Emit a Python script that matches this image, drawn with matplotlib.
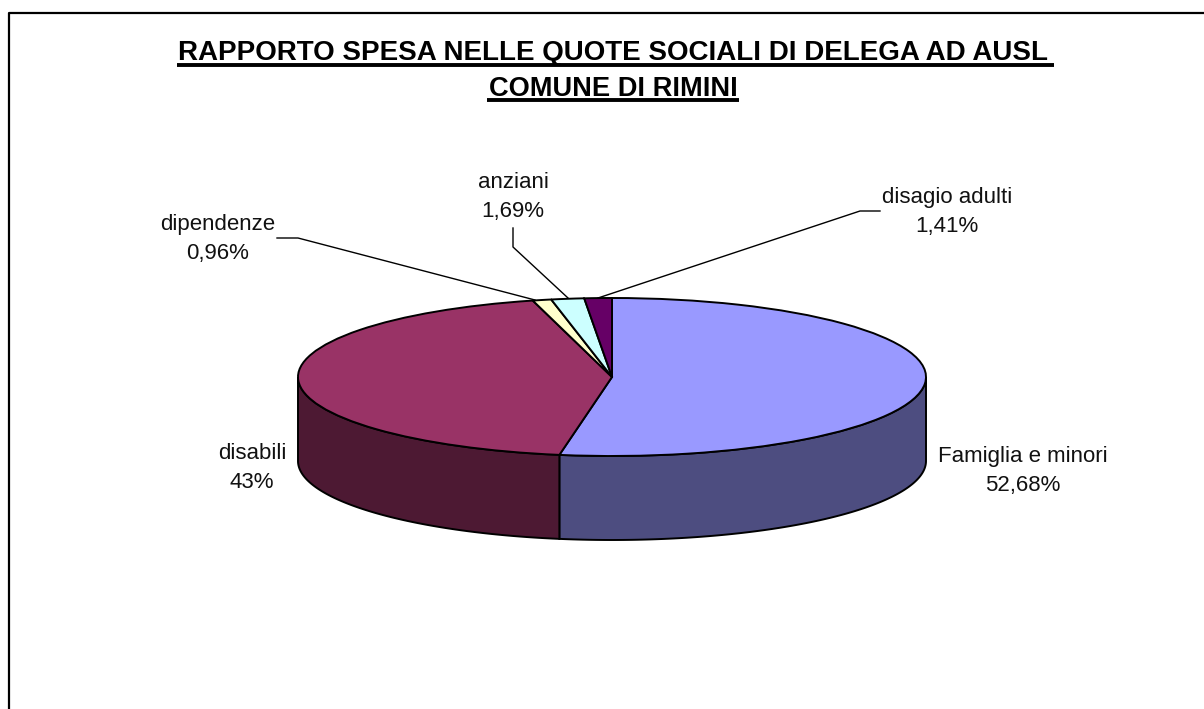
import matplotlib
matplotlib.use("Agg")
import matplotlib.pyplot as plt
import numpy as np

W, H = 1204, 709
# ellipse geometry in pixels
CX, CY, RX, RY, DEPTH = 612, 377, 314, 79, 84

names = ["Famiglia e minori", "disabili", "dipendenze", "anziani", "disagio adulti"]
values = [52.68, 43.26, 0.96, 1.69, 1.41]
pct_labels = ["52,68%", "43%", "0,96%", "1,69%", "1,41%"]
colors = ["#9999FF", "#993366", "#FFFFCC", "#CCFFFF", "#660066"]
side_colors = ["#4D4D80", "#4D1933", "#808066", "#668080", "#330033"]
label_pos = [(1023, 471), (252, 468), (218, 239), (513, 197), (947, 212)]
leaders = [None, None, [(277, 238), (298, 238), (535, 300)],
           [(513, 228), (513, 247), (568, 298)], [(880, 211), (860, 211), (598, 298)]]

plt.rcParams["font.family"] = ["Liberation Sans", "DejaVu Sans"]
fig = plt.figure(figsize=(W / 100, H / 100), dpi=100, facecolor="white")

# pie axes: data unit = one radius, so the circle is squashed into the ellipse
ax = fig.add_axes([0, 0, 1, 1])
ax.pie(values, colors=colors, startangle=90, counterclock=False, radius=1,
       wedgeprops={"edgecolor": "black", "linewidth": 1.4, "zorder": 3})
ax.set_aspect("auto")
ax.set_xlim(-CX / RX, (W - CX) / RX)
ax.set_ylim((CY - H) / RY, CY / RY)
ax.axis("off")

# side wall, only the part of each slice on the front half
d = DEPTH / RY
edges = 90 - np.cumsum([0] + values) * 3.6
for start, end, c in zip(edges[:-1], edges[1:], side_colors):
    lo, hi = max(end, -180), min(start, 0)
    if lo >= hi:
        continue
    t = np.radians(np.linspace(lo, hi, 120))
    xs = np.r_[np.cos(t), np.cos(t[::-1])]
    ys = np.r_[np.sin(t), np.sin(t[::-1]) - d]
    ax.fill(xs, ys, facecolor=c, edgecolor="black", linewidth=1.4, zorder=2)

# pixel overlay for frame, title, labels
ov = fig.add_axes([0, 0, 1, 1], facecolor="none")
ov.set_xlim(0, W)
ov.set_ylim(H, 0)
ov.axis("off")

# frame is cut off by the image on the right and at the bottom
ov.plot([9, 9, W], [H, 13, 13], color="black", lw=1.6)

ov.text(612.5, 60, "RAPPORTO SPESA NELLE QUOTE SOCIALI DI DELEGA AD AUSL",
        ha="center", va="baseline", fontsize=20, fontweight="bold")
ov.text(613, 96, "COMUNE DI RIMINI",
        ha="center", va="baseline", fontsize=19.6, fontweight="bold")
ov.plot([177, 1054], [64.5, 64.5], color="black", lw=2.8, solid_capstyle="butt")
ov.plot([487, 739], [100, 100], color="black", lw=2.8, solid_capstyle="butt")

for name, pct, (x, y) in zip(names, pct_labels, label_pos):
    ov.text(x, y, f"{name}\n{pct}", ha="center", va="center", fontsize=16,
            linespacing=1.45, color="#111111")
for pts in leaders:
    if pts:
        ov.plot(*zip(*pts), color="black", lw=1)

fig.savefig("out.png", dpi=100)
plt.close(fig)
